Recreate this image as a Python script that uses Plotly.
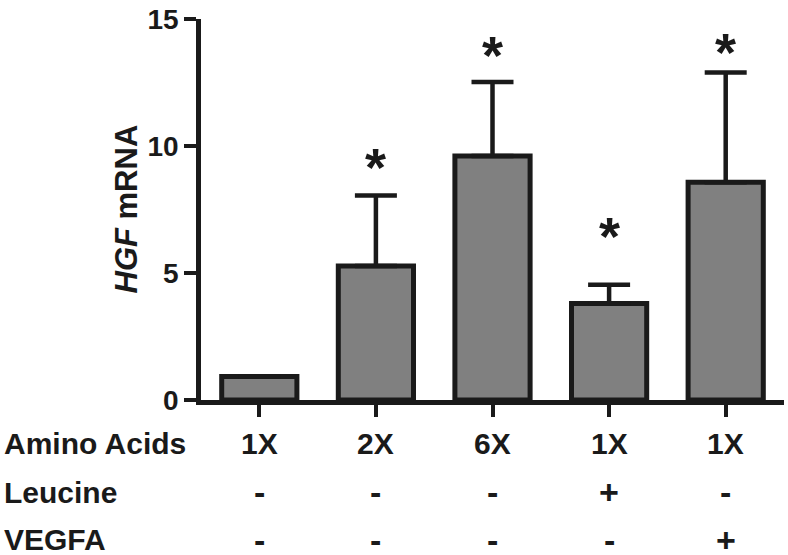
import plotly.graph_objects as go

categories = ["c1", "c2", "c3", "c4", "c5"]
values = [0.93, 5.28, 9.61, 3.80, 8.57]
errors = [0.0, 2.77, 2.91, 0.74, 4.32]
star_y = [None, 9.25, 13.66, 6.54, 13.77]
amino = ["1X", "2X", "6X", "1X", "1X"]
leucine = ["-", "-", "-", "+", "-"]
vegfa = ["-", "-", "-", "-", "+"]
row_labels = ["Amino Acids", "Leucine", "VEGFA"]
y_ticks = [0, 5, 10, 15]

FONT = "Arial, Liberation Sans, Helvetica, sans-serif"
INK = "#1a1a1a"

fig = go.Figure()
fig.add_trace(go.Bar(
    x=list(range(len(categories))), y=values, width=0.645,
    marker=dict(color="#808080", line=dict(color=INK, width=5)),
    error_y=dict(type="data", array=errors, arrayminus=[0]*len(errors), symmetric=False,
                 color=INK, thickness=4.5, width=21, visible=True),
    showlegend=False, hoverinfo="skip",
))

annotations = []
for i, sy in enumerate(star_y):
    if sy is None:
        continue
    annotations.append(dict(x=i, y=sy, xref="x", yref="y", text="<b>*</b>", showarrow=False,
                            font=dict(family=FONT, size=54, color=INK), yanchor="middle", yshift=-2))

rows = [amino, leucine, vegfa]
row_py = [445, 494, 542.5]
top_px, bot_px = 13.3, 400.5
def paper_y(py):
    return (bot_px - py) / (bot_px - top_px)

for r, (lab, vals) in enumerate(zip(row_labels, rows)):
    yy = paper_y(row_py[r])
    annotations.append(dict(x=(2 - 201) / 583, y=yy, xref="paper", yref="paper", text="<b>%s</b>" % lab,
                            showarrow=False, xanchor="left", yanchor="middle",
                            font=dict(family=FONT, size=30, color=INK)))
    for i, v in enumerate(vals):
        sz = 30 if r == 0 else 34
        annotations.append(dict(x=i, y=yy, xref="x", yref="paper", text="<b>%s</b>" % v,
                                showarrow=False, xanchor="center", yanchor="middle",
                                font=dict(family=FONT, size=sz, color=INK)))

annotations.append(dict(x=(126 - 201) / 583, y=0.5, xref="paper", yref="paper",
                        text="<b><i>HGF</i> mRNA</b>", textangle=-90, showarrow=False,
                        xanchor="center", yanchor="middle",
                        font=dict(family=FONT, size=31, color=INK)))

fig.update_layout(
    width=788, height=555,
    margin=dict(l=201, r=4, t=13.3, b=154.5),
    plot_bgcolor="white", paper_bgcolor="white",
    annotations=annotations,
    xaxis=dict(range=[-0.5, 4.5], tickvals=list(range(len(categories))), ticktext=[""]*5,
               showline=True, linecolor=INK, linewidth=4.5, ticks="outside", ticklen=12,
               tickwidth=4, tickcolor=INK, showgrid=False, zeroline=False, fixedrange=True),
    yaxis=dict(range=[0, 15], tickvals=y_ticks, showline=True, linecolor=INK, linewidth=4.5,
               ticks="outside", ticklen=12, tickwidth=4, tickcolor=INK, showgrid=False,
               zeroline=False, tickfont=dict(family=FONT, size=28, color=INK, weight="bold"),
               ticklabeloverflow="allow", fixedrange=True),
    font=dict(family=FONT, color=INK),
)

fig.write_html("out.html", config={"displayModeBar": False},
               post_script="document.body.style.margin='0';document.body.style.padding='0';")
